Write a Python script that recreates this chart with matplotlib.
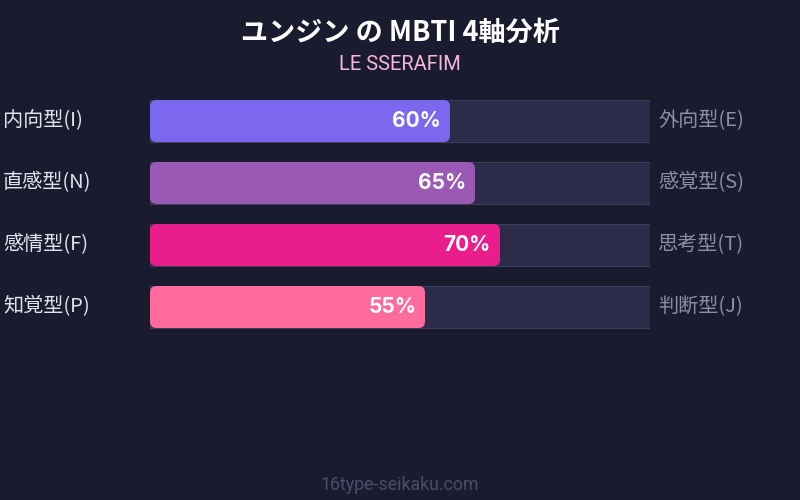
import matplotlib
matplotlib.use("Agg")
import matplotlib.pyplot as plt
from matplotlib.patches import FancyBboxPatch, Rectangle

plt.rcParams["font.family"] = ["Noto Sans CJK JP", "DejaVu Sans"]

# data
left_labels = ["内向型(I)", "直感型(N)", "感情型(F)", "知覚型(P)"]
right_labels = ["外向型(E)", "感覚型(S)", "思考型(T)", "判断型(J)"]
values = [60, 65, 70, 55]
colors = ["#7b68ee", "#9b59b6", "#e91e8c", "#ff6b9d"]

title = "ユンジン の MBTI 4軸分析"
subtitle = "LE SSERAFIM"
footer = "16type-seikaku.com"

BG = "#1a1b2e"
TRACK = "#2c2b4a"
TRACK_EDGE = "#3e3d5e"
LATIN = ["Roboto", "DejaVu Sans"]

W, H = 800, 500
fig = plt.figure(figsize=(8, 5), dpi=100)
fig.patch.set_facecolor(BG)

# bar area: x 150..650 px, rows 62 px apart starting at y=90 px
ax = fig.add_axes([150 / W, 1 - 338 / H, 500 / W, 248 / H])
ax.set_xlim(0, 100)
ax.set_ylim(len(values) - 0.5, -0.5)
ax.axis("off")

bar_h = 42 / 62
aspect = (1 / 62) / (100 / 500)

for i, (val, col) in enumerate(zip(values, colors)):
    ax.add_patch(Rectangle((0, i - bar_h / 2), 100, bar_h,
                           facecolor=TRACK, edgecolor=TRACK_EDGE,
                           linewidth=0.8, zorder=1))
    ax.add_patch(FancyBboxPatch((0, i - bar_h / 2), val, bar_h,
                                boxstyle="round,pad=0,rounding_size=1.3",
                                mutation_aspect=aspect,
                                facecolor=col, edgecolor="none", zorder=2))
    ax.text(val - 1.8, i, f"{val}%", ha="right", va="center",
            fontsize=15, fontweight="bold", color="white", zorder=3,
            family=["Inter", "DejaVu Sans"])
    ax.text(-29.4, i, left_labels[i], ha="left", va="center",
            fontsize=14.5, color="#e4e4f0", clip_on=False)
    ax.text(101.6, i, right_labels[i], ha="left", va="center",
            fontsize=14.5, color="#8e8ea6", clip_on=False)

fig.text(0.5, 1 - 33 / H, title, ha="center", va="center",
         fontsize=19.5, fontweight="bold", color="white")
fig.text(0.5, 1 - 64 / H, subtitle, ha="center", va="center",
         fontsize=14.5, color="#f5b8dc", family=LATIN)
fig.text(0.5, 1 - 485 / H, footer, ha="center", va="center",
         fontsize=12.8, color="#4c4c6c", family=LATIN)

fig.savefig("out.png", dpi=100, facecolor=BG)
